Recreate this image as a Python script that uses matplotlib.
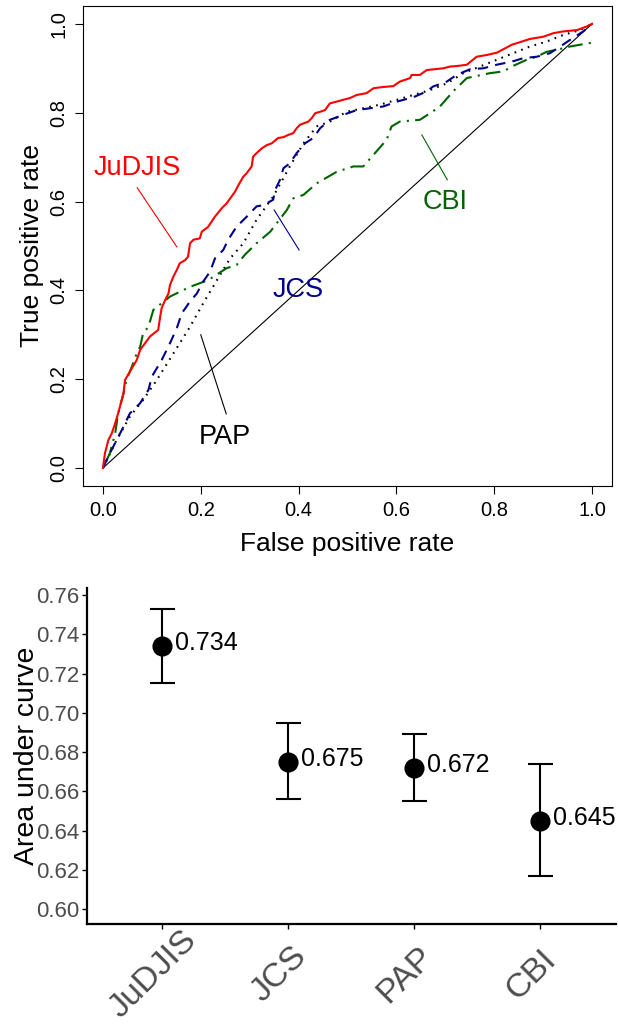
import matplotlib
matplotlib.use("Agg")
import matplotlib.pyplot as plt
from matplotlib.transforms import ScaledTranslation
import numpy as np

plt.rcParams['font.family'] = ['Liberation Sans', 'DejaVu Sans']

# ---------------- ROC data ----------------
judjis_fpr = [0, 0.004, 0.011, 0.018, 0.025, 0.031, 0.042, 0.045, 0.055, 0.069, 0.076, 0.086, 0.096,
              0.113, 0.117, 0.120, 0.127, 0.134, 0.137, 0.144, 0.151, 0.157, 0.168, 0.174, 0.178, 0.185,
              0.198, 0.202, 0.215, 0.229, 0.243, 0.253, 0.260, 0.270, 0.277, 0.287, 0.294, 0.304, 0.307,
              0.314, 0.325, 0.335, 0.345, 0.358, 0.369, 0.379, 0.389, 0.396, 0.403, 0.420, 0.427, 0.434,
              0.444, 0.454, 0.464, 0.478, 0.491, 0.505, 0.519, 0.539, 0.553, 0.566, 0.594, 0.607, 0.628,
              0.631, 0.648, 0.662, 0.696, 0.710, 0.723, 0.744, 0.764, 0.785, 0.805, 0.836, 0.856, 0.873,
              0.900, 0.921, 0.941, 0.969, 0.989, 1.0]
judjis_tpr = [0, 0.033, 0.063, 0.078, 0.101, 0.123, 0.168, 0.198, 0.217, 0.243, 0.266, 0.281, 0.296,
              0.311, 0.341, 0.360, 0.378, 0.393, 0.412, 0.431, 0.446, 0.461, 0.468, 0.476, 0.506, 0.514,
              0.517, 0.532, 0.543, 0.566, 0.585, 0.596, 0.607, 0.622, 0.637, 0.656, 0.664, 0.679, 0.701,
              0.709, 0.720, 0.727, 0.731, 0.743, 0.745, 0.750, 0.754, 0.765, 0.773, 0.780, 0.788, 0.799,
              0.802, 0.806, 0.821, 0.825, 0.829, 0.833, 0.840, 0.844, 0.855, 0.857, 0.860, 0.870, 0.878,
              0.885, 0.885, 0.896, 0.900, 0.904, 0.905, 0.908, 0.926, 0.930, 0.935, 0.953, 0.960, 0.966,
              0.971, 0.979, 0.983, 0.986, 0.994, 1.0]

jcs_fpr = [0, 0.014, 0.028, 0.042, 0.055, 0.076, 0.093, 0.100, 0.120, 0.137, 0.151, 0.161, 0.178,
           0.192, 0.205, 0.219, 0.229, 0.246, 0.256, 0.273, 0.294, 0.314, 0.328, 0.348, 0.352, 0.362,
           0.369, 0.382, 0.396, 0.413, 0.430, 0.444, 0.464, 0.491, 0.519, 0.546, 0.573, 0.601, 0.635,
           0.662, 0.675, 0.703, 0.723, 0.751, 0.778, 0.805, 0.836, 0.860, 0.887, 0.914, 0.935, 0.955,
           0.982, 1.0]
jcs_tpr = [0, 0.033, 0.063, 0.093, 0.123, 0.146, 0.176, 0.206, 0.243, 0.281, 0.315, 0.348, 0.375,
           0.393, 0.420, 0.442, 0.472, 0.491, 0.514, 0.543, 0.566, 0.589, 0.592, 0.604, 0.626, 0.649,
           0.675, 0.686, 0.709, 0.731, 0.743, 0.765, 0.784, 0.795, 0.806, 0.810, 0.814, 0.825, 0.835,
           0.848, 0.859, 0.870, 0.885, 0.898, 0.900, 0.908, 0.915, 0.923, 0.926, 0.934, 0.949, 0.964,
           0.983, 1.0]

pap_fpr = [0, 0.028, 0.055, 0.082, 0.110, 0.144, 0.178, 0.205, 0.233, 0.260, 0.287, 0.314, 0.348,
           0.382, 0.410, 0.437, 0.464, 0.498, 0.532, 0.566, 0.601, 0.635, 0.669, 0.703, 0.737, 0.771,
           0.805, 0.839, 0.873, 0.907, 0.941, 0.975, 1.0]
pap_tpr = [0, 0.063, 0.116, 0.153, 0.198, 0.258, 0.318, 0.371, 0.423, 0.472, 0.506, 0.559, 0.611,
           0.679, 0.731, 0.769, 0.780, 0.802, 0.810, 0.818, 0.829, 0.840, 0.851, 0.866, 0.889, 0.904,
           0.919, 0.934, 0.949, 0.960, 0.975, 0.986, 1.0]

cbi_fpr = [0, 0.014, 0.025, 0.031, 0.042, 0.048, 0.059, 0.069, 0.076, 0.082, 0.093, 0.103, 0.137,
           0.178, 0.215, 0.253, 0.273, 0.290, 0.314, 0.342, 0.376, 0.389, 0.410, 0.437, 0.478, 0.512,
           0.532, 0.553, 0.580, 0.590, 0.607, 0.648, 0.669, 0.689, 0.716, 0.744, 0.791, 0.819, 0.836,
           0.866, 0.887, 0.907, 0.941, 0.955, 0.996, 1.0]
cbi_tpr = [0, 0.033, 0.078, 0.123, 0.168, 0.198, 0.228, 0.258, 0.273, 0.303, 0.318, 0.356, 0.386,
           0.408, 0.423, 0.450, 0.457, 0.480, 0.506, 0.532, 0.581, 0.607, 0.615, 0.641, 0.667, 0.679,
           0.679, 0.705, 0.739, 0.769, 0.780, 0.784, 0.799, 0.814, 0.848, 0.878, 0.889, 0.893, 0.904,
           0.919, 0.926, 0.937, 0.945, 0.949, 0.957, 0.959]

# ---------------- AUC data ----------------
auc_labels = ["JuDJIS", "JCS", "PAP", "CBI"]
auc_values = [0.734, 0.675, 0.672, 0.645]
auc_lower = [0.715, 0.656, 0.655, 0.617]
auc_upper = [0.753, 0.695, 0.689, 0.674]

RED = "#FF0000"
BLUE = "#00008B"
GREEN = "#006400"

fig = plt.figure(figsize=(6.18, 10.25), dpi=100)

# ---------------- Top: ROC ----------------
ax = fig.add_axes([83.4 / 618, 1 - 485.8 / 1025, 528.2 / 618, 479.7 / 1025])
ax.plot([0, 1], [0, 1], color="black", lw=0.8)
ax.plot(pap_fpr, pap_tpr, color="black", lw=1.5, linestyle=(0, (0.8, 2.6)))
ax.plot(cbi_fpr, cbi_tpr, color=GREEN, lw=1.5, linestyle=(0, (1, 3, 7, 3)))
ax.plot(jcs_fpr, jcs_tpr, color=BLUE, lw=1.5, linestyle=(0, (5, 3.5)))
ax.plot(judjis_fpr, judjis_tpr, color=RED, lw=1.5)
ax.set_xlim(-0.04, 1.04)
ax.set_ylim(-0.04, 1.04)
ticks = [0.0, 0.2, 0.4, 0.6, 0.8, 1.0]
ax.set_xticks(ticks)
ax.set_yticks(ticks)
ax.set_xticklabels([f"{t:.1f}" for t in ticks])
ax.set_yticklabels([f"{t:.1f}" for t in ticks], rotation=90, va="center")
ax.tick_params(direction="out", length=5.8, width=0.8, labelsize=14.5, pad=5)
for s in ax.spines.values():
    s.set_linewidth(0.8)
ax.set_xlabel("False positive rate", fontsize=19, labelpad=9)
ax.set_ylabel("True positive rate", fontsize=19, labelpad=4)

# annotations
ax.text(0.070, 0.676, "JuDJIS", color=RED, fontsize=19.5, ha="center", va="center")
ax.plot([0.070, 0.151], [0.631, 0.498], color=RED, lw=0.8)
ax.text(0.399, 0.401, "JCS", color=BLUE, fontsize=19.5, ha="center", va="center")
ax.plot([0.350, 0.401], [0.581, 0.491], color=BLUE, lw=0.8)
ax.text(0.249, 0.070, "PAP", color="black", fontsize=19.5, ha="center", va="center")
ax.plot([0.200, 0.252], [0.300, 0.122], color="black", lw=0.8)
ax.text(0.700, 0.599, "CBI", color=GREEN, fontsize=19.5, ha="center", va="center")
ax.plot([0.652, 0.704], [0.750, 0.649], color=GREEN, lw=0.8)

# ---------------- Bottom: AUC ----------------
ax2 = fig.add_axes([86.7 / 618, 1 - 924 / 1025, 529.3 / 618, 336 / 1025])
xpos = np.arange(1, len(auc_labels) + 1)
vals = np.array(auc_values)
yerr = np.array([vals - np.array(auc_lower), np.array(auc_upper) - vals])
ax2.errorbar(xpos, vals, yerr=yerr, fmt="o", color="black", ecolor="black",
             elinewidth=1.5, capsize=9, capthick=1.5, markersize=13.5)
for x, v in zip(xpos, auc_values):
    ax2.annotate(f"{v:.3f}", (x, v), xytext=(9, 2), textcoords="offset points",
                 ha="left", va="center", fontsize=18, color="black")
ax2.set_xlim(0.4, 4.6)
ax2.set_ylim(0.5924, 0.7636)
yt = [0.60, 0.62, 0.64, 0.66, 0.68, 0.70, 0.72, 0.74, 0.76]
ax2.set_yticks(yt)
ax2.set_yticklabels([f"{t:.2f}" for t in yt])
ax2.set_xticks(xpos)
ax2.set_xticklabels(auc_labels, rotation=45, ha="center", va="center", rotation_mode="anchor")
ax2.tick_params(axis="y", labelsize=16, labelcolor="#4D4D4D", length=3.5, width=1, pad=2)
ax2.tick_params(axis="x", labelsize=24.5, labelcolor="#4D4D4D", length=3.5, width=1, pad=33)
shift = ScaledTranslation(-9 / 100, 0, fig.dpi_scale_trans)
for lbl in ax2.get_xticklabels():
    lbl.set_transform(lbl.get_transform() + shift)
ax2.spines["top"].set_visible(False)
ax2.spines["right"].set_visible(False)
ax2.spines["left"].set_linewidth(1.6)
ax2.spines["bottom"].set_linewidth(1.6)
ax2.set_ylabel("Area under curve", fontsize=20.5, labelpad=-3)

fig.savefig("out.png", dpi=100)
